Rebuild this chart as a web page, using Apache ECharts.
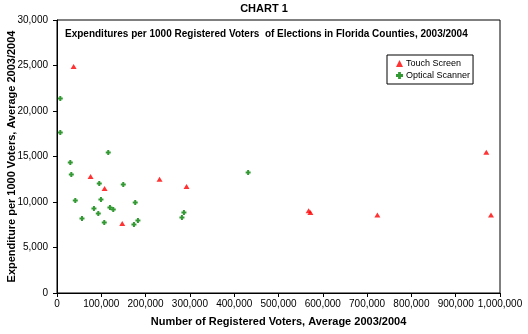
<!DOCTYPE html>
<html>
<head>
<meta charset="utf-8">
<script src="https://cdn.jsdelivr.net/npm/echarts@6/dist/echarts.min.js"></script>
<style>
  html, body { margin: 0; padding: 0; background: #fff; }
  #chart { width: 528px; height: 334px; }
</style>
</head>
<body>
<div id="chart"></div>
<script>
// Registered voters (x) and expenditure per 1000 voters (y), by voting system
const touchScreenVoters = [37500, 75800, 107400, 147300, 231500, 292400, 568000, 572000, 723200, 969100, 979700];
const touchScreenSpend  = [24900, 12800, 11480, 7640, 12510, 11700, 9050, 8850, 8560, 15480, 8560];

const opticalVoters = [7400, 7400, 30000, 32300, 115700, 95400, 149600, 41300, 99200, 176600, 83400,
                       119500, 127000, 93200, 56400, 106700, 173700, 182700, 286500, 282000, 431500];
const opticalSpend  = [21360, 17630, 14330, 13020, 15430, 12030, 11920, 10160, 10270, 9940, 9290,
                       9400, 9180, 8740, 8190, 7750, 7530, 7970, 8850, 8300, 13240];

const xTicks = { min: 0, max: 1000000, interval: 100000 };
const yTicks = { min: 0, max: 30000, interval: 5000 };

const seriesNames = ['Touch Screen', 'Optical Scanner'];
const chartTitle = 'CHART 1';
const plotTitle = 'Expenditures per 1000 Registered Voters  of Elections in Florida Counties, 2003/2004';
const xTitle = 'Number of Registered Voters, Average 2003/2004';
const yTitle = 'Expenditure per 1000 Voters, Average 2003/2004';

const pairs = (xs, ys) => xs.map((x, i) => [x, ys[i]]);
const fmt = v => v.toLocaleString('en-US');
const font = '"Liberation Sans", Arial, sans-serif';
const plusPath = 'path://M3,0 H7 V3 H10 V7 H7 V10 H3 V7 H0 V3 H3 Z';

const chart = echarts.init(document.getElementById('chart'), null, { renderer: 'canvas' });
chart.setOption({
  animation: false,
  backgroundColor: '#ffffff',
  title: [
    { text: chartTitle, left: 'center', top: -2,
      textStyle: { fontFamily: font, fontSize: 11, fontWeight: 'bold', color: '#000' } },
    { text: plotTitle, left: 60, top: 24,
      textStyle: { fontFamily: font, fontSize: 10, fontWeight: 'bold', color: '#000' } }
  ],
  grid: { left: 57, right: 28, top: 20, bottom: 41, outerBoundsMode: 'none', containLabel: false,
          show: true, borderColor: '#000', borderWidth: 1 },
  legend: {
    left: 387, top: 55, orient: 'vertical',
    itemGap: 3, itemWidth: 7, itemHeight: 7,
    padding: [4, 3, 4, 9],
    borderColor: '#000', borderWidth: 1, backgroundColor: '#fff',
    textStyle: { fontFamily: font, fontSize: 9, color: '#000', padding: [0, 0, 0, -2] },
    data: [
      { name: seriesNames[0], icon: 'triangle' },
      { name: seriesNames[1], icon: plusPath }
    ]
  },
  xAxis: {
    type: 'value', min: xTicks.min, max: xTicks.max, interval: xTicks.interval,
    name: xTitle, nameLocation: 'middle', nameGap: 23, nameMoveOverlap: false,
    nameTextStyle: { fontFamily: font, fontSize: 11, fontWeight: 'bold', color: '#000' },
    axisLine: { show: true, lineStyle: { color: '#000', width: 1 } },
    axisTick: { show: true, length: 4, lineStyle: { color: '#000' } },
    axisLabel: { formatter: fmt, fontFamily: font, fontSize: 10, color: '#000', margin: 6 },
    splitLine: { show: false }
  },
  yAxis: {
    type: 'value', min: yTicks.min, max: yTicks.max, interval: yTicks.interval,
    name: yTitle, nameLocation: 'middle', nameGap: 40, nameRotate: 90, nameMoveOverlap: false,
    nameTextStyle: { fontFamily: font, fontSize: 11, fontWeight: 'bold', color: '#000' },
    axisLine: { show: true, lineStyle: { color: '#000', width: 1 } },
    axisTick: { show: true, length: 4, lineStyle: { color: '#000' } },
    axisLabel: { formatter: fmt, fontFamily: font, fontSize: 10, color: '#000', margin: 9 },
    splitLine: { show: false }
  },
  series: [
    {
      name: seriesNames[0], type: 'scatter', symbol: 'triangle', symbolSize: [6, 5],
      itemStyle: { color: '#ff0000' },
      data: pairs(touchScreenVoters, touchScreenSpend)
    },
    {
      name: seriesNames[1], type: 'scatter', symbol: plusPath, symbolSize: 5,
      itemStyle: { color: '#008000' },
      data: pairs(opticalVoters, opticalSpend)
    }
  ]
});
</script>
</body>
</html>
